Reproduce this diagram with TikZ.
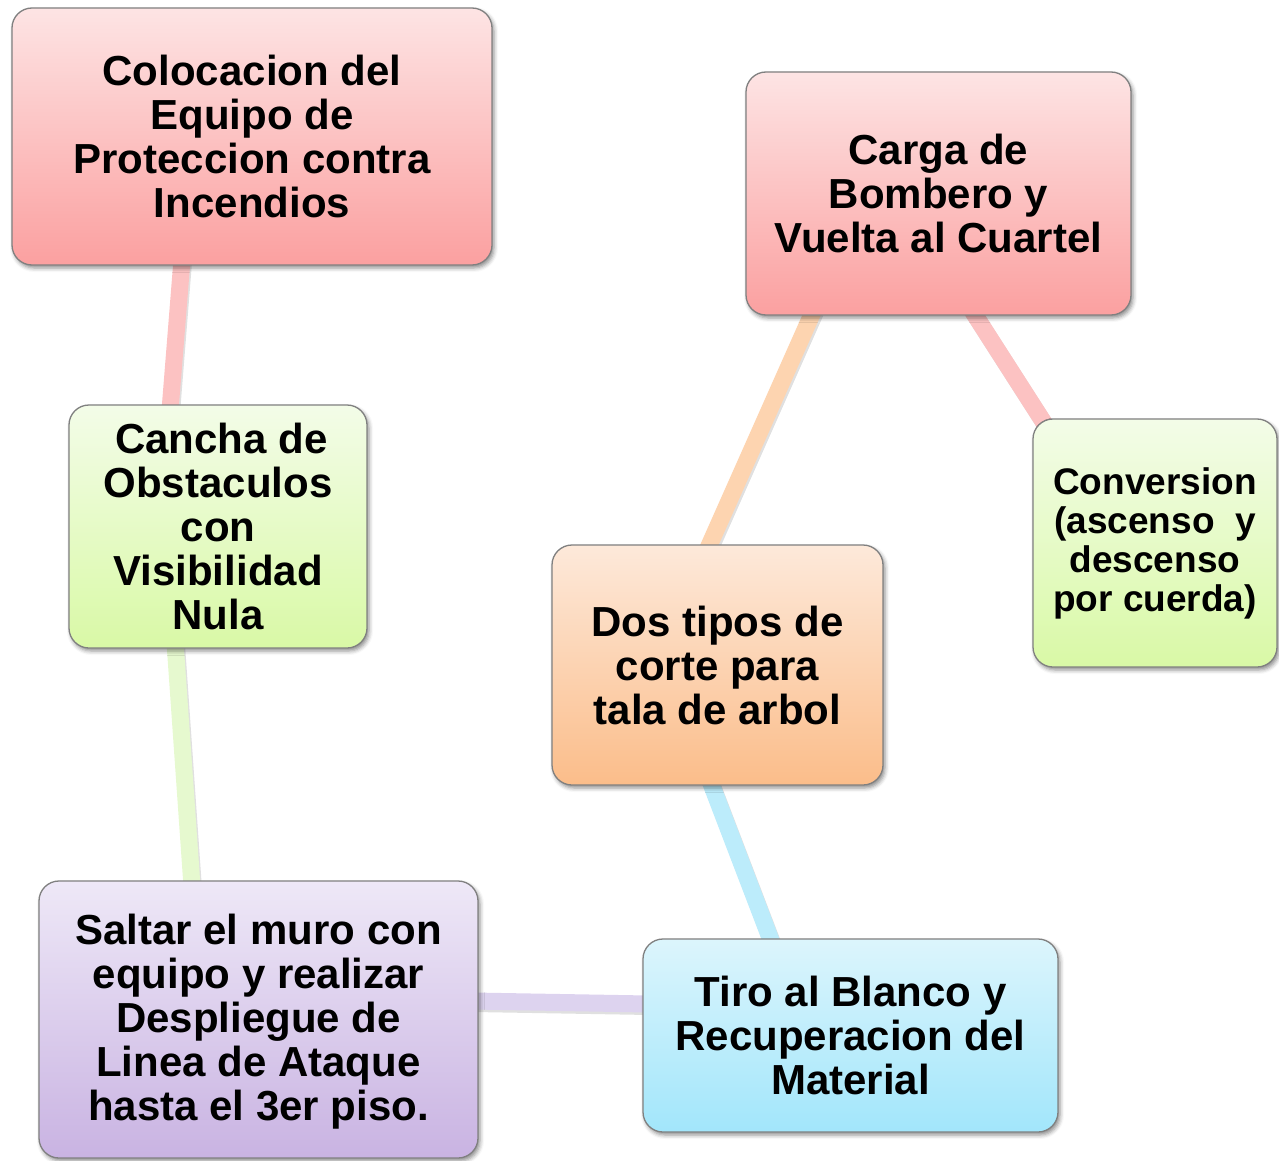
\documentclass[tikz,border=0pt]{standalone}
\usepackage{fontspec}
\setmainfont{Liberation Sans}
\usetikzlibrary{calc,shadows.blur}
\pgfdeclarelayer{background}
\pgfsetlayers{background,main}
\definecolor{redtop}{HTML}{FDE4E4}
\definecolor{redbot}{HTML}{FBA0A0}
\definecolor{greentop}{HTML}{F3FCE8}
\definecolor{greenbot}{HTML}{D9F9A6}
\definecolor{orangetop}{HTML}{FDE9DA}
\definecolor{orangebot}{HTML}{FBBD8A}
\definecolor{bluetop}{HTML}{DCF5FC}
\definecolor{bluebot}{HTML}{A2E6FB}
\definecolor{purpletop}{HTML}{EEE8F7}
\definecolor{purplebot}{HTML}{C9B3E2}
\definecolor{cpink}{HTML}{FCC2C2}
\definecolor{cgreen}{HTML}{E6F9CF}
\definecolor{cpurple}{HTML}{DDD3EF}
\definecolor{cblue}{HTML}{BCECFB}
\definecolor{corange}{HTML}{FDD4B0}
\definecolor{edgegray}{HTML}{808080}
\tikzset{
  box/.style={draw=edgegray, line width=1.3pt, rounded corners=20pt,
    align=center, inner sep=0pt,
    font=\fontsize{42}{44}\selectfont\bfseries,
    blur shadow={shadow xshift=2pt, shadow yshift=-3pt, shadow blur radius=4pt, shadow opacity=45}},
  redbox/.style={box, top color=redtop, bottom color=redbot},
  greenbox/.style={box, top color=greentop, bottom color=greenbot},
  orangebox/.style={box, top color=orangetop, bottom color=orangebot},
  bluebox/.style={box, top color=bluetop, bottom color=bluebot},
  purplebox/.style={box, top color=purpletop, bottom color=purplebot},
  conn/.style={line width=17pt},
  connshadow/.style={line width=17pt, black, opacity=0.12, transform canvas={xshift=1.5pt, yshift=-2.5pt}}
}
\begin{document}
\begin{tikzpicture}[x=1pt,y=-1pt]
\useasboundingbox (0,0) rectangle (1279,1161);
\node[redbox, minimum width=480pt, minimum height=257pt] (b1) at (252,136.5)
  {Colocacion del\\Equipo de\\Proteccion contra\\Incendios};
\node[redbox, minimum width=385pt, minimum height=243pt] (b2) at (938.5,193.5)
  {Carga de\\Bombero y\\Vuelta al Cuartel};
\node[greenbox, minimum width=298pt, minimum height=243pt] (b3) at (218,526.5)
  {\,Cancha de\\Obstaculos\\con\\Visibilidad\\Nula};
\node[greenbox, minimum width=244pt, minimum height=248pt, font=\fontsize{37}{39}\selectfont\bfseries] (b4) at (1155,543)
  {\raisebox{-2.5pt}[\height][\depth]{\begin{tabular}{@{}c@{}}Conversion\\(ascenso\ \ y\\descenso\\por cuerda)\end{tabular}}};
\node[orangebox, minimum width=331pt, minimum height=240pt] (b5) at (717.5,665)
  {Dos tipos de\\corte para\\tala de arbol};
\node[purplebox, minimum width=439pt, minimum height=277pt] (b6) at (258.5,1019.5)
  {\raisebox{-4.5pt}[\height][\depth]{\begin{tabular}{@{}c@{}}Saltar el muro con\\equipo y realizar\\Despliegue de\\Linea de Ataque\\hasta el 3er piso.\end{tabular}}};
\node[bluebox, minimum width=415pt, minimum height=193pt] (b7) at (850.5,1035.5)
  {Tiro al Blanco y\\Recuperacion del\\Material};
\begin{pgfonlayer}{background}
  % endpoints of the connectors
  \coordinate (p1a) at ($(b1.south)+(-70,-6)$);
  \coordinate (p1b) at ($(b3.north)+(-48,6)$);
  \coordinate (p2a) at ($(b3.south)+(-43,-6)$);
  \coordinate (p2b) at ($(b6.north)+(-66.5,6)$);
  \coordinate (p3a) at ($(b6.east)+(-6,-18.5)$);
  \coordinate (p3b) at ($(b7.west)+(6,-31.5)$);
  \coordinate (p4a) at ($(b5.south)+(-8,-6)$);
  \coordinate (p4b) at ($(b7.north)+(-78,6)$);
  \coordinate (p5a) at ($(b5.north)+(-10.5,6)$);
  \coordinate (p5b) at ($(b2.south)+(-124.5,-6)$);
  \coordinate (p6a) at ($(b2.south)+(33,-6)$);
  \coordinate (p6b) at ($(b4.north)+(-110,6)$);
  \foreach \a/\b in {p1a/p1b,p2a/p2b,p3a/p3b,p4a/p4b,p5a/p5b,p6a/p6b}
    \draw[connshadow] (\a) -- (\b);
  \draw[conn, cpink] (p1a) -- (p1b);
  \draw[conn, cgreen] (p2a) -- (p2b);
  \draw[conn, cpurple] (p3a) -- (p3b);
  \draw[conn, cblue] (p4a) -- (p4b);
  \draw[conn, corange] (p5a) -- (p5b);
  \draw[conn, cpink] (p6a) -- (p6b);
\end{pgfonlayer}
\end{tikzpicture}
\end{document}
